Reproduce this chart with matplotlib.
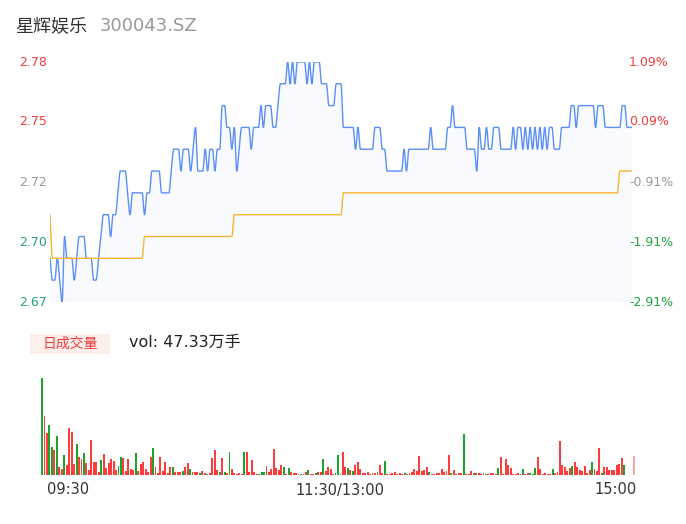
import numpy as np
import matplotlib
matplotlib.use("Agg")
import matplotlib.pyplot as plt
from matplotlib.patches import Rectangle

plt.rcParams['font.family'] = ['DejaVu Sans', 'Noto Sans CJK SC']

# ---------------- data ----------------
stock_name = "星辉娱乐"
stock_code = "300043.SZ"
prev_close = 2.75
total_vol_label = "vol: 47.33万手"
time_labels = ["09:30", "11:30/13:00", "15:00"]

price = [
    2.69, 2.68, 2.68, 2.69, 2.68, 2.67, 2.70, 2.69, 2.69, 2.69,
    2.68, 2.69, 2.70, 2.70, 2.70, 2.69, 2.69, 2.69, 2.68, 2.68,
    2.69, 2.70, 2.71, 2.71, 2.71, 2.70, 2.71, 2.71, 2.72, 2.73,
    2.73, 2.73, 2.72, 2.71, 2.72, 2.72, 2.72, 2.72, 2.72, 2.71,
    2.72, 2.72, 2.73, 2.73, 2.73, 2.73, 2.72, 2.72, 2.72, 2.72,
    2.73, 2.74, 2.74, 2.74, 2.73, 2.74, 2.74, 2.74, 2.73, 2.74,
    2.75, 2.73, 2.73, 2.73, 2.74, 2.73, 2.74, 2.74, 2.73, 2.74,
    2.74, 2.76, 2.76, 2.75, 2.75, 2.74, 2.75, 2.73, 2.74, 2.75,
    2.75, 2.75, 2.75, 2.74, 2.75, 2.75, 2.75, 2.76, 2.75, 2.76,
    2.76, 2.76, 2.75, 2.75, 2.76, 2.77, 2.77, 2.77, 2.78, 2.77,
    2.78, 2.77, 2.78, 2.78, 2.78, 2.78, 2.77, 2.78, 2.77, 2.78,
    2.78, 2.78, 2.77, 2.77, 2.77, 2.76, 2.76, 2.76, 2.77, 2.77,
    2.77,
    2.75, 2.75, 2.75, 2.75, 2.75, 2.74, 2.75, 2.74, 2.74, 2.74,
    2.74, 2.74, 2.74, 2.75, 2.75, 2.75, 2.74, 2.74, 2.73, 2.73,
    2.73, 2.73, 2.73, 2.73, 2.73, 2.74, 2.73, 2.74, 2.74, 2.74,
    2.74, 2.74, 2.74, 2.74, 2.74, 2.74, 2.75, 2.74, 2.74, 2.74,
    2.74, 2.74, 2.74, 2.75, 2.75, 2.76, 2.75, 2.75, 2.75, 2.75,
    2.75, 2.74, 2.74, 2.74, 2.74, 2.73, 2.75, 2.74, 2.74, 2.75,
    2.74, 2.74, 2.75, 2.75, 2.75, 2.74, 2.74, 2.74, 2.74, 2.74,
    2.75, 2.74, 2.75, 2.75, 2.74, 2.75, 2.74, 2.75, 2.74, 2.75,
    2.74, 2.75, 2.74, 2.75, 2.74, 2.75, 2.75, 2.74, 2.74, 2.74,
    2.75, 2.75, 2.75, 2.75, 2.76, 2.76, 2.75, 2.76, 2.76, 2.76,
    2.76, 2.76, 2.76, 2.76, 2.75, 2.76, 2.76, 2.76, 2.75, 2.75,
    2.75, 2.75, 2.75, 2.75, 2.75, 2.76, 2.76, 2.75, 2.75, 2.75,
]

avg_price = ([2.71] + [2.69] * 38 + [2.70] * 37 + [2.71] * 45
             + [2.72] * 114 + [2.73] * 6)

# volume in 百手 ; direction 1 = up (red), -1 = down (green), 0 = closing auction
volume = [
    290, 175, 125, 150, 83, 75, 118, 23, 18, 60,
    30, 140, 128, 32, 93, 53, 47, 65, 37, 15,
    105, 40, 40, 9, 45, 63, 22, 36, 48, 42,
    15, 27, 53, 50, 12, 49, 18, 15, 65, 12,
    32, 38, 17, 9, 55, 81, 23, 6, 53, 12,
    39, 7, 25, 23, 10, 10, 10, 12, 23, 35,
    17, 9, 10, 8, 5, 11, 7, 3, 7, 52,
    75, 15, 8, 52, 10, 7, 68, 17, 5, 3,
    5, 3, 68, 68, 10, 45, 10, 3, 3, 8,
    8, 28, 10, 18, 79, 20, 15, 30, 25, 3,
    20, 8, 7, 5, 4, 4, 3, 8, 15, 3,
    2, 6, 9, 8, 47, 12, 25, 17, 3, 5,
    60, 3, 69, 23, 20, 15, 11, 30, 38, 17,
    5, 5, 10, 3, 5, 5, 10, 30, 7, 41,
    2, 2, 7, 8, 3, 5, 3, 5, 4, 5,
    9, 17, 12, 57, 12, 15, 25, 8, 2, 2,
    5, 5, 18, 8, 13, 59, 7, 15, 3, 5,
    5, 122, 2, 3, 12, 7, 5, 7, 2, 5,
    3, 4, 5, 5, 4, 22, 53, 3, 48, 30,
    20, 2, 3, 5, 3, 18, 2, 7, 5, 3,
    22, 53, 18, 2, 5, 3, 3, 18, 5, 10,
    103, 30, 23, 12, 20, 27, 38, 25, 15, 13,
    27, 7, 15, 38, 18, 12, 82, 7, 23, 23,
    15, 15, 15, 30, 33, 50, 30, 0, 0, 0,
    57,
]
direction = [
    -1, 1, 1, -1, -1, 1, -1, 1, 1, -1,
    1, 1, 1, 1, -1, 1, 1, -1, 1, 1,
    1, 1, 1, 1, -1, 1, 1, 1, 1, 1,
    1, -1, -1, 1, 1, 1, 1, 1, -1, 1,
    1, 1, 1, 1, 1, -1, 1, 1, 1, 1,
    1, 1, 1, -1, 1, 1, 1, -1, 1, 1,
    -1, 1, 1, 1, -1, 1, 1, -1, 1, 1,
    1, 1, -1, 1, -1, 1, -1, 1, 1, 1,
    1, 1, -1, 1, 1, 1, 1, 1, -1, -1,
    -1, 1, 1, 1, 1, 1, 1, 1, -1, 1,
    -1, 1, 1, 1, 1, -1, 1, 1, -1, 1,
    1, -1, 1, 1, -1, 1, 1, 1, 1, -1,
    -1, 1, 1, 1, -1, 1, -1, 1, 1, 1,
    1, 1, 1, 1, 1, 1, -1, 1, 1, -1,
    1, 1, 1, 1, 1, 1, 1, -1, 1, 1,
    1, 1, 1, 1, 1, 1, 1, -1, 1, 1,
    1, 1, 1, 1, 1, 1, -1, 1, 1, 1,
    1, -1, 1, 1, 1, -1, 1, 1, 1, 1,
    -1, 1, 1, 1, 1, -1, 1, 1, 1, 1,
    1, 1, 1, 1, 1, -1, 1, 1, -1, -1,
    -1, 1, 1, 1, 1, 1, 1, -1, 1, 1,
    1, 1, 1, 1, 1, -1, 1, 1, 1, 1,
    1, 1, 1, -1, 1, 1, 1, -1, 1, 1,
    1, 1, 1, 1, 1, 1, -1, 1, 1, 1,
    0,
]

# ---------------- helpers ----------------
def smooth(x, y, n=10):
    x = np.asarray(x, float)
    y = np.asarray(y, float)
    h = np.diff(x)
    d = np.diff(y) / h
    m = np.zeros_like(y)
    m[0], m[-1] = d[0], d[-1]
    for k in range(1, len(y) - 1):
        if d[k - 1] * d[k] <= 0:
            m[k] = 0.0
        else:
            w1 = 2 * h[k] + h[k - 1]
            w2 = h[k] + 2 * h[k - 1]
            m[k] = (w1 + w2) / (w1 / d[k - 1] + w2 / d[k])
    xs, ys = [], []
    for k in range(len(x) - 1):
        t = np.linspace(0, 1, n, endpoint=False)
        h00 = 2 * t**3 - 3 * t**2 + 1
        h10 = t**3 - 2 * t**2 + t
        h01 = -2 * t**3 + 3 * t**2
        h11 = t**3 - t**2
        xs.append(x[k] + t * h[k])
        ys.append(h00 * y[k] + h10 * h[k] * m[k] + h01 * y[k + 1] + h11 * h[k] * m[k + 1])
    xs.append([x[-1]])
    ys.append([y[-1]])
    return np.concatenate(xs), np.concatenate(ys)

W, H = 686, 524
fig = plt.figure(figsize=(W / 100, H / 100), dpi=100)

def fx(px):
    return px / W

def fy(py):
    return 1 - py / H

RED = '#f23d3d'
GREEN_L = '#27a276'
GREEN_R = '#1fa33c'
GRAY = '#999999'

# ---------------- price panel ----------------
ymin, ymax = prev_close * (1 - 0.0291), prev_close * (1 + 0.0109)
ax = fig.add_axes([fx(50), fy(302), fx(632) - fx(50), fy(62) - fy(302)])
n = len(price)
xi = np.arange(n)
sx, sy = smooth(xi, price)
ax.fill_between(sx, sy, ymin, color='#f8fafe', lw=0)
ax.plot(sx, sy, color='#5b8ff9', lw=1.0, solid_joinstyle='round')
ax_x, ay = smooth(xi, avg_price)
ax.plot(ax_x, ay, color='#f8b531', lw=1.0)
ax.set_xlim(0, n - 1)
ax.set_ylim(ymin, ymax)
ax.axis('off')

ticks = np.linspace(ymin, ymax, 5)
for v in ticks:
    pct = (v - prev_close) / prev_close * 100
    if pct > 0:
        c_l = RED
        c_r = RED
    elif abs(v - ticks[2]) < 1e-9:
        c_l = GRAY
        c_r = GRAY
    else:
        c_l = GREEN_L
        c_r = GREEN_R
    yfig = fy(302) + (v - ymin) / (ymax - ymin) * (fy(62) - fy(302))
    fig.text(fx(46.5), yfig, f"{v:.2f}", ha='right', va='center', fontsize=9, color=c_l)
    fig.text(fx(629), yfig, f"{pct:.2f}%", ha='left', va='center', fontsize=9, color=c_r)

# ---------------- header ----------------
fig.text(fx(15), fy(26), stock_name, ha='left', va='center', fontsize=13, color='#333333')
fig.text(fx(100), fy(26), stock_code, ha='left', va='center', fontsize=13, color=GRAY)

fig.patches.append(Rectangle((fx(30), fy(354)), fx(110) - fx(30), fy(334) - fy(354),
                             transform=fig.transFigure, facecolor='#fdefeb', edgecolor='none'))
fig.text(fx(70), fy(343.5), "日成交量", ha='center', va='center', fontsize=10, color='#f03a3a')
fig.text(fx(129), fy(342), total_vol_label, ha='left', va='center', fontsize=11.5, color='#222222')

# ---------------- volume panel ----------------
axv = fig.add_axes([fx(40.8), fy(475), fx(635.2) - fx(40.8), fy(378) - fy(475)])
cols = []
for dsg in direction:
    if dsg > 0:
        cols.append('#ff3c3c')
    elif dsg < 0:
        cols.append('#1ca52c')
    else:
        cols.append('#ffa3a3')
axv.bar(np.arange(len(volume)), volume, width=0.78, color=cols, linewidth=0)
axv.set_xlim(-0.5, len(volume) - 0.5)
axv.set_ylim(0, max(volume))
axv.axis('off')

fig.text(fx(47), fy(490), time_labels[0], ha='left', va='center', fontsize=10.5, color='#333333')
fig.text(fx(340), fy(490), time_labels[1], ha='center', va='center', fontsize=10.5, color='#333333')
fig.text(fx(637), fy(490), time_labels[2], ha='right', va='center', fontsize=10.5, color='#333333')

fig.savefig('out.png', dpi=100, facecolor='white')
